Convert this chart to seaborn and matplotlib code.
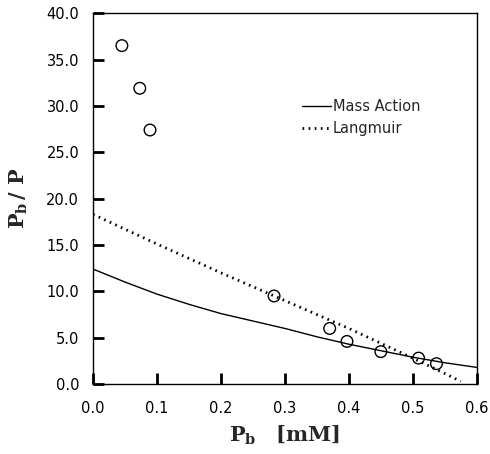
import seaborn as sns
import matplotlib.pyplot as plt

# measured points
pb_data = [0.045, 0.073, 0.089, 0.283, 0.370, 0.397, 0.450, 0.509, 0.537]
ratio_data = [36.5, 31.9, 27.4, 9.5, 6.0, 4.6, 3.5, 2.8, 2.2]

# fitted curves
pb_mass = [0.0, 0.05, 0.1, 0.15, 0.2, 0.25, 0.3, 0.35, 0.4, 0.45, 0.5, 0.55, 0.6]
ratio_mass = [12.4, 11.0, 9.7, 8.6, 7.6, 6.8, 6.0, 5.1, 4.3, 3.6, 2.9, 2.3, 1.8]

pb_lang = [0.0, 0.1, 0.2, 0.3, 0.4, 0.5, 0.575]
ratio_lang = [18.3, 15.1, 12.0, 9.0, 6.0, 2.8, 0.3]

x_ticks = [0.0, 0.1, 0.2, 0.3, 0.4, 0.5, 0.6]
x_labels = ["0.0", "0.1", "0.2", "0.3", "0.4", "0.5", "0.6"]
y_ticks = [0, 5, 10, 15, 20, 25, 30, 35, 40]
y_labels = ["0.0", "5.0", "10.0", "15.0", "20.0", "25.0", "30.0", "35.0", "40.0"]

sns.set_style("ticks", {"xtick.direction": "in", "ytick.direction": "in"})
plt.rcParams["mathtext.fontset"] = "dejavuserif"

fig = plt.figure(figsize=(4.9, 4.54), dpi=100)
ax = fig.add_axes([0.19, 0.154, 0.783, 0.817])

sns.lineplot(x=pb_mass, y=ratio_mass, ax=ax, color="black", linewidth=1.0,
             label="Mass Action")
sns.lineplot(x=pb_lang, y=ratio_lang, ax=ax, color="black", linewidth=2.0,
             linestyle=(0, (0.6, 1.6)), label="Langmuir")
sns.scatterplot(x=pb_data, y=ratio_data, ax=ax, marker="o", s=70,
                facecolor="none", edgecolor="black", linewidth=1.0)

ax.set_xlim(0, 0.6)
ax.set_ylim(0, 40)
ax.set_xticks(x_ticks)
ax.set_xticklabels(x_labels)
ax.set_yticks(y_ticks)
ax.set_yticklabels(y_labels)

# inward ticks, x pad a bit larger than y
ax.tick_params(axis="x", direction="in", length=8, width=2, color="black",
               labelsize=10.5, labelcolor="black", pad=12)
ax.tick_params(axis="y", direction="in", length=8, width=2, color="black",
               labelsize=10.5, labelcolor="black", pad=10)
for sp in ax.spines.values():
    sp.set_color("black")
    sp.set_linewidth(1.0)

ax.set_xlabel(r"$\mathbf{P}_{\mathbf{b}}$   $\mathbf{[mM]}$", fontsize=15,
              labelpad=6)
ax.set_ylabel(r"$\mathbf{P}_{\mathbf{b}}\,\mathbf{/\ P}$", fontsize=15,
              labelpad=12)

ax.legend(loc="upper left", bbox_to_anchor=(0.51, 0.805), frameon=False,
          fontsize=10.5, handlelength=2.0, handletextpad=0.1,
          labelspacing=0.5)

fig.savefig("out.png", dpi=100)
